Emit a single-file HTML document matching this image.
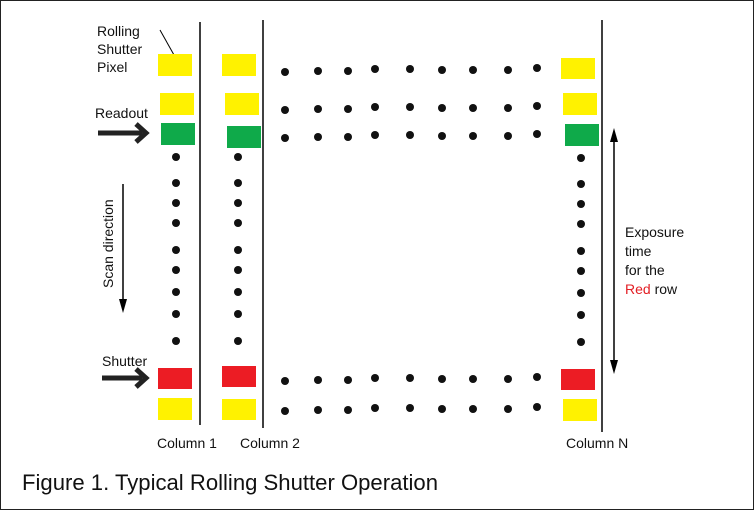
<!DOCTYPE html>
<html><head><meta charset="utf-8"><style>
body{margin:0;background:#fff}
svg{display:block}
text{font-family:"Liberation Sans",sans-serif;fill:#111}
</style></head><body>
<svg width="755" height="511" viewBox="0 0 755 511">
<rect x="0.5" y="0.5" width="753" height="509" fill="#fff" stroke="#222" stroke-width="1"/>
<g stroke="#000" stroke-width="1.5">
<line x1="200" y1="22" x2="200" y2="425"/>
<line x1="263" y1="20" x2="263" y2="428"/>
<line x1="602" y1="20" x2="602" y2="432"/>
<line x1="614" y1="140" x2="614" y2="362"/>
<line x1="123" y1="184" x2="123" y2="300"/>
<line x1="160" y1="30" x2="174" y2="55" stroke-width="1"/>
</g>
<polygon points="614,128 610,142 618,142" fill="#000"/>
<polygon points="614,374 610,360 618,360" fill="#000"/>
<polygon points="123,313 119,299 127,299" fill="#000"/>
<g stroke="#222" stroke-width="5" fill="none">
<line x1="98" y1="133" x2="142" y2="133"/>
<polyline points="136,124 146,133 136,142"/>
<line x1="102" y1="378" x2="142" y2="378"/>
<polyline points="136,369 146,378 136,387"/>
</g>
<g fill="#fff200">
<rect x="158" y="54" width="34" height="22"/><rect x="160" y="93" width="34" height="22"/><rect x="158" y="398" width="34" height="22"/>
<rect x="222" y="54" width="34" height="22"/><rect x="225" y="93" width="34" height="22"/><rect x="222" y="399" width="34" height="21"/>
<rect x="561" y="58" width="34" height="21"/><rect x="563" y="93" width="34" height="22"/><rect x="563" y="399" width="34" height="22"/>
</g>
<g fill="#0faa4a">
<rect x="161" y="123" width="34" height="22"/><rect x="227" y="126" width="34" height="22"/><rect x="565" y="124" width="34" height="22"/>
</g>
<g fill="#ec1c24">
<rect x="158" y="368" width="34" height="21"/><rect x="222" y="366" width="34" height="21"/><rect x="561" y="369" width="34" height="21"/>
</g>
<g fill="#111">
<g id="vd">
<circle cx="176" cy="157" r="4"/><circle cx="176" cy="183" r="4"/><circle cx="176" cy="203" r="4"/><circle cx="176" cy="223" r="4"/><circle cx="176" cy="250" r="4"/><circle cx="176" cy="270" r="4"/><circle cx="176" cy="292" r="4"/><circle cx="176" cy="314" r="4"/><circle cx="176" cy="341" r="4"/>
</g>
<use href="#vd" x="62"/>
<use href="#vd" x="405" y="1"/>
<g id="hd">
<circle cx="285" cy="72" r="4"/><circle cx="318" cy="71" r="4"/><circle cx="348" cy="71" r="4"/><circle cx="375" cy="69" r="4"/><circle cx="410" cy="69" r="4"/><circle cx="442" cy="70" r="4"/><circle cx="473" cy="70" r="4"/><circle cx="508" cy="70" r="4"/><circle cx="537" cy="68" r="4"/>
</g>
<use href="#hd" y="38"/>
<use href="#hd" y="66"/>
<use href="#hd" y="309"/>
<use href="#hd" y="339"/>
</g>
<g font-size="14">
<text x="97" y="36">Rolling</text>
<text x="97" y="54">Shutter</text>
<text x="97" y="72">Pixel</text>
<text x="95" y="118">Readout</text>
<text x="102" y="366">Shutter</text>
<text x="157" y="448">Column 1</text>
<text x="240" y="448">Column 2</text>
<text x="566" y="448">Column N</text>
<text x="625" y="237">Exposure</text>
<text x="625" y="256">time</text>
<text x="625" y="275">for the</text>
<text x="625" y="294"><tspan fill="#e31e24">Red</tspan> row</text>
<text transform="translate(113,288) rotate(-90)">Scan direction</text>
</g>
<text x="22" y="490" font-size="22" textLength="416" lengthAdjust="spacingAndGlyphs">Figure 1. Typical Rolling Shutter Operation</text>
</svg>
</body></html>
